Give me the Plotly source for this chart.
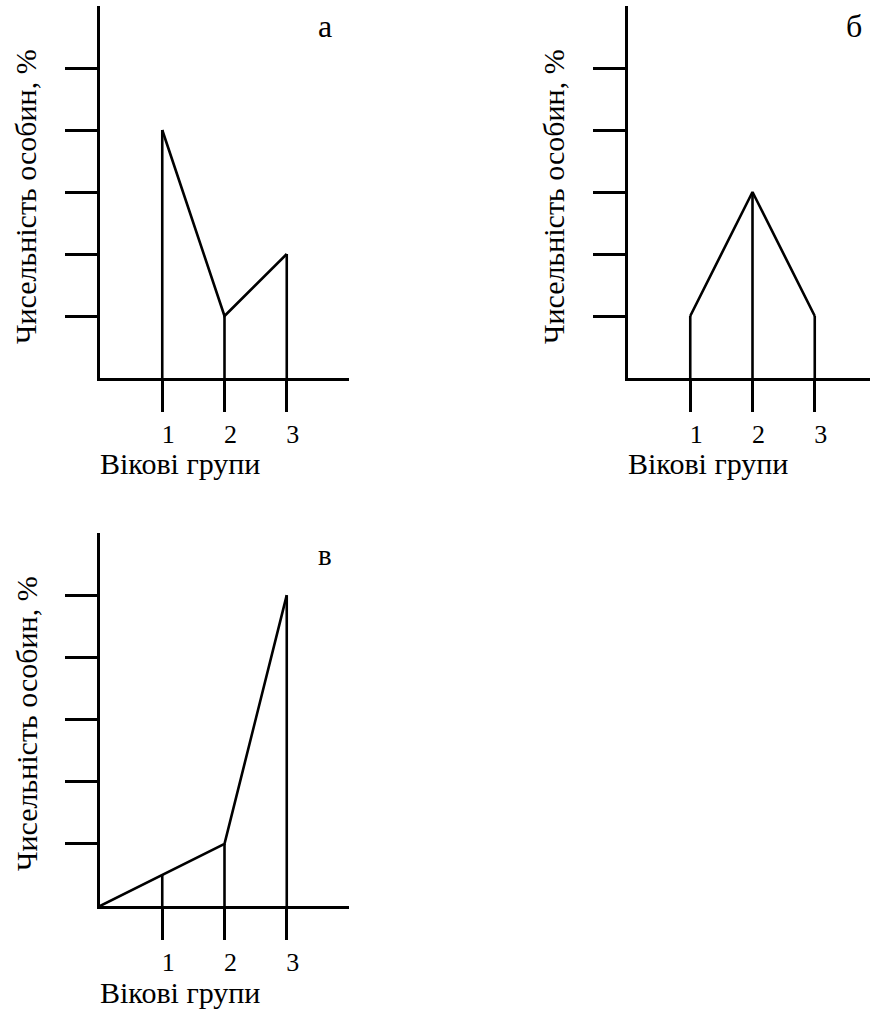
import plotly.graph_objects as go

# ---- data ----
groups = [1, 2, 3]
group_labels = ["1", "2", "3"]
a_vals = [4, 1, 2]
b_vals = [1, 3, 1]
v_vals = [0.5, 1, 5]
v_origin = (0, 0)
y_ticks = [1, 2, 3, 4, 5]
panel_names = ["а", "б", "в"]
y_title = "Чисельність особин, %"
x_title = "Вікові групи"

W, H = 870, 1010
FONT = "Liberation Serif, Times New Roman, serif"
LW = 2.6

def px_x(p):
    return p / W

def px_y(p):
    return 1 - p / H

fig = go.Figure()

def add_panel(idx, xs, ys, line_x=None, line_y=None):
    sfx = "" if idx == 1 else str(idx)
    vx, vy = [], []
    for x, y in zip(xs, ys):
        vx += [x, x, None]
        vy += [0, y, None]
    fig.add_trace(go.Scatter(x=vx, y=vy, mode="lines",
                             line=dict(color="black", width=LW),
                             xaxis="x" + sfx, yaxis="y" + sfx,
                             showlegend=False, hoverinfo="skip", cliponaxis=False))
    lx = line_x if line_x is not None else xs
    ly = line_y if line_y is not None else ys
    fig.add_trace(go.Scatter(x=lx, y=ly, mode="lines",
                             line=dict(color="black", width=LW),
                             xaxis="x" + sfx, yaxis="y" + sfx,
                             showlegend=False, hoverinfo="skip", cliponaxis=False))

add_panel(1, groups, a_vals)
add_panel(2, groups, b_vals)
add_panel(3, groups, v_vals,
          line_x=[v_origin[0]] + groups, line_y=[v_origin[1]] + v_vals)

def xaxis_cfg(domain, rng, anchor):
    return dict(domain=domain, range=rng, anchor=anchor,
                showline=True, linecolor="black", linewidth=LW,
                showgrid=False, zeroline=False,
                tickmode="array", tickvals=groups, ticktext=group_labels,
                ticks="outside", ticklen=31, tickwidth=LW, tickcolor="black",
                ticklabelshift=6, ticklabelstandoff=0,
                tickfont=dict(family=FONT, size=26, color="black"),
                fixedrange=True)

def yaxis_cfg(domain, anchor):
    return dict(domain=domain, range=[0, 6], anchor=anchor,
                showline=True, linecolor="black", linewidth=LW,
                showgrid=False, zeroline=False,
                tickmode="array", tickvals=y_ticks,
                ticks="outside", ticklen=32, tickwidth=LW, tickcolor="black",
                showticklabels=False, fixedrange=True)

top_dom = [px_y(378), px_y(6)]
bot_dom = [px_y(906), px_y(533)]
unit = 62.25

fig.update_layout(
    width=W, height=H,
    margin=dict(l=0, r=0, t=0, b=0),
    paper_bgcolor="white", plot_bgcolor="white",
    xaxis=xaxis_cfg([px_x(100), px_x(349)], [0, 4], "y"),
    yaxis=yaxis_cfg(top_dom, "x"),
    xaxis2=xaxis_cfg([px_x(628), 1.0], [0, (870 - 628) / unit], "y2"),
    yaxis2=yaxis_cfg(top_dom, "x2"),
    xaxis3=xaxis_cfg([px_x(100), px_x(349)], [0, 4], "y3"),
    yaxis3=yaxis_cfg(bot_dom, "x3"),
)

ann = []
for xc, yc in [(26, 197), (554, 197), (26, 724)]:
    ann.append(dict(text=y_title, textangle=-90, xref="paper", yref="paper",
                    x=px_x(xc), y=px_y(yc), xanchor="center", yanchor="middle",
                    showarrow=False, font=dict(family=FONT, size=30, color="black")))
for xl, yc in [(100, 464), (628, 464), (100, 992)]:
    ann.append(dict(text=x_title, xref="paper", yref="paper",
                    x=px_x(xl - 2), y=px_y(yc), xanchor="left", yanchor="middle",
                    showarrow=False, font=dict(family=FONT, size=30, color="black")))
for name, xc, yc, size in [(panel_names[0], 325, 26, 32),
                           (panel_names[1], 854, 26, 32),
                           (panel_names[2], 325, 555, 29)]:
    ann.append(dict(text=name, xref="paper", yref="paper",
                    x=px_x(xc), y=px_y(yc), xanchor="center", yanchor="middle",
                    showarrow=False, font=dict(family=FONT, size=size, color="black")))
fig.update_layout(annotations=ann)

fig.write_html("out.html",
               config={"displayModeBar": False},
               post_script="document.body.style.margin='0';document.body.style.overflow='hidden';")
